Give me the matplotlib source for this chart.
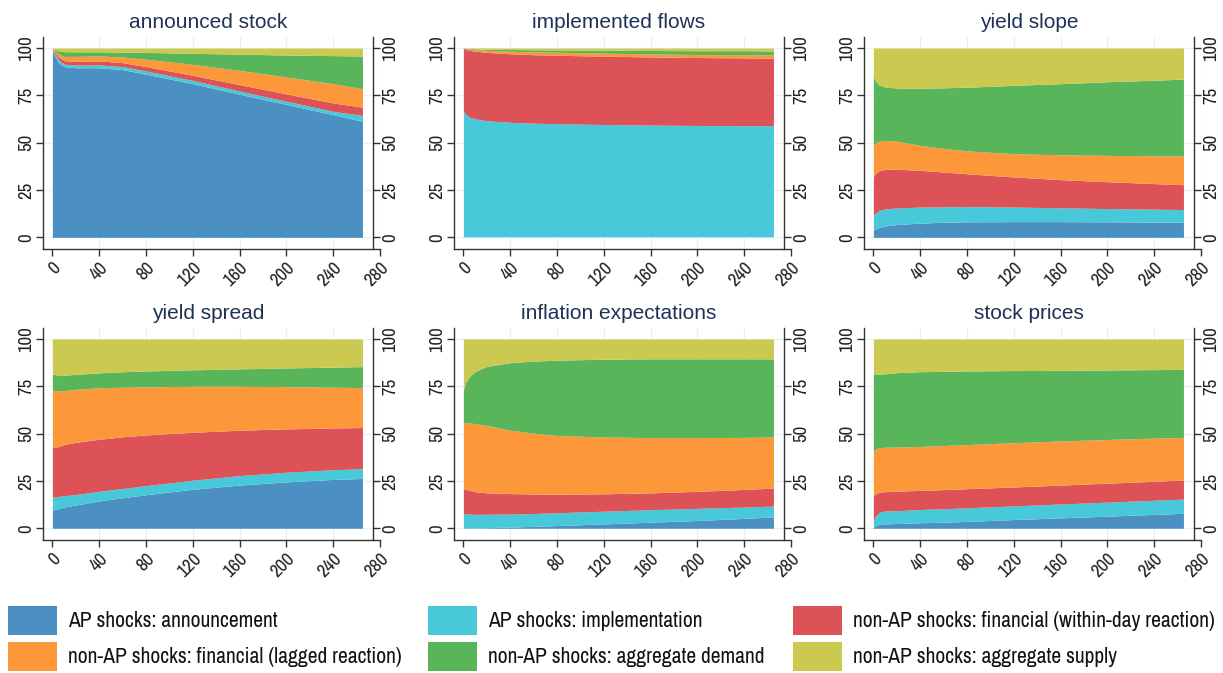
import numpy as np
import matplotlib
matplotlib.use("Agg")
import matplotlib.pyplot as plt
from matplotlib.patches import Rectangle
from matplotlib import font_manager as fm

plt.rcParams['font.family'] = ['Liberation Sans', 'DejaVu Sans']

# narrow face for ticks and legend, falling back to the regular one
installed = {f.name for f in fm.fontManager.ttflist}
narrow = [f for f in ['Liberation Sans Narrow', 'Arial Narrow', 'Archivo Narrow',
                      'PT Sans Narrow', 'Roboto Condensed'] if f in installed]
narrow_family = (narrow[:1] or ['Liberation Sans']) + ['DejaVu Sans']
is_narrow = bool(narrow)

# forecast horizon (days)
h = [0, 2, 5, 10, 20, 40, 60, 80, 120, 160, 200, 240, 265]

# cumulative upper edge of each shock group, in percent
# order: announcement, implementation, fin. within-day, fin. lagged, agg. demand (supply fills to 100)
stock_bounds = [
    [98.5, 96, 92.5, 90.2, 89.6, 89.6, 88.6, 86.2, 81.2, 75.6, 70.2, 64.8, 61.3],
    [99, 97, 94, 91.5, 91, 91.1, 90.2, 87.9, 82.9, 77.3, 71.9, 66.6, 64.4],
    [99.3, 98, 95.5, 93.3, 93, 93.2, 92.3, 90.2, 85.6, 80.7, 75.8, 71, 68.8],
    [99.6, 98.8, 97, 95.6, 95.6, 95.8, 95.3, 94.1, 91.4, 88.2, 84.7, 81.2, 78.5],
    [99.9, 99.3, 98.5, 98.1, 98, 98, 97.9, 97.7, 97.2, 96.8, 96.3, 96, 95.8],
]
flows_bounds = [
    [0.3, 0.3, 0.3, 0.3, 0.3, 0.3, 0.3, 0.3, 0.3, 0.3, 0.3, 0.3, 0.3],
    [67, 65, 63.6, 62.6, 61.6, 60.8, 60.3, 60, 59.6, 59.3, 59.1, 59, 59],
    [100, 99.3, 98.8, 98.4, 97.7, 97, 96.5, 96.2, 95.7, 95.3, 95, 94.8, 94.7],
    [100, 99.7, 99.4, 99.2, 98.8, 98.3, 98, 97.8, 97.3, 96.9, 96.6, 96.5, 96.4],
    [100, 99.9, 99.8, 99.6, 99.4, 99.2, 99.1, 99.0, 98.9, 98.7, 98.6, 98.6, 98.5],
]
slope_bounds = [
    [3.5, 4.5, 5.2, 6, 6.8, 7.5, 8, 8.2, 8.3, 8.3, 8.2, 8.1, 8.1],
    [11.5, 13, 14.2, 15, 15.5, 16, 16.1, 16.2, 16, 15.6, 15.2, 14.9, 14.7],
    [32, 34, 35.2, 36, 36, 35.4, 34.5, 33.6, 31.9, 30.5, 29.4, 28.4, 27.8],
    [48.5, 50, 50.8, 51.2, 50.8, 48.6, 47, 45.7, 44.2, 43.6, 43.3, 43.1, 43],
    [85, 82.5, 80.5, 79.4, 78.9, 78.8, 79, 79.3, 80.3, 81.2, 82.2, 83, 83.6],
]
spread_bounds = [
    [9.5, 9.9, 10.3, 11.2, 12.3, 14.4, 16.1, 17.7, 20.6, 22.8, 24.5, 25.8, 26.3],
    [16.3, 16.5, 16.8, 17.2, 17.8, 19.5, 21, 22.5, 25.4, 27.8, 29.6, 30.9, 31.5],
    [42.5, 42.8, 43.2, 44.2, 45.4, 47, 48.3, 49.3, 50.7, 51.8, 52.5, 53, 53.2],
    [73, 72.8, 72.5, 72.7, 73.4, 74.2, 74.5, 74.7, 75, 75, 74.8, 74.5, 74.3],
    [81.5, 81.3, 80.6, 80.8, 81.3, 82.1, 82.7, 83.1, 83.7, 84.2, 84.7, 85.1, 85.4],
]
infl_bounds = [
    [0, 0, 0, 0.1, 0.3, 0.6, 1, 1.4, 2.3, 3.2, 4.1, 5.2, 6],
    [7.8, 7.6, 7.5, 7.3, 7.4, 7.5, 7.8, 8.2, 9, 9.8, 10.5, 11.2, 11.7],
    [21, 20.5, 20, 19.3, 18.7, 18.3, 18.1, 18, 18.2, 18.7, 19.5, 20.5, 21.2],
    [56, 55.8, 55.6, 55.3, 54.3, 51.8, 50.2, 49, 48.2, 47.9, 47.9, 48, 48.2],
    [73, 77, 80, 82.8, 85.5, 87.5, 88.3, 88.8, 89.3, 89.5, 89.5, 89.5, 89.5],
]
sp_bounds = [
    [0.5, 1.3, 2, 2.3, 2.5, 2.9, 3.2, 3.6, 4.6, 5.5, 6.4, 7.3, 7.9],
    [4, 6.5, 8.5, 9.1, 9.3, 9.9, 10.3, 10.8, 11.8, 12.8, 13.8, 14.8, 15.4],
    [17, 18.2, 19, 19.3, 19.6, 20, 20.4, 20.9, 21.8, 22.8, 23.8, 24.8, 25.5],
    [40.5, 41.8, 42.6, 42.8, 42.9, 43.2, 43.7, 44.2, 45.2, 46.1, 46.9, 47.6, 48],
    [81.5, 81.5, 81.4, 81.6, 82.2, 82.7, 82.9, 83.1, 83.3, 83.4, 83.6, 83.8, 83.9],
]

titles = ["announced stock", "implemented flows", "yield slope",
          "yield spread", "inflation expectations", "stock prices"]
panels = [stock_bounds, flows_bounds, slope_bounds, spread_bounds, infl_bounds, sp_bounds]

labels = ["AP shocks: announcement", "AP shocks: implementation",
          "non-AP shocks: financial (within-day reaction)",
          "non-AP shocks: financial (lagged reaction)",
          "non-AP shocks: aggregate demand", "non-AP shocks: aggregate supply"]
colors = ["#4b8fc3", "#47c9d9", "#dc5256", "#fd983a", "#58b559", "#cbc94f"]

tick_size = 13.5 if is_narrow else 12
leg_size = 15.5 if is_narrow else 13

W, H = 1223, 673
fig = plt.figure(figsize=(W / 100, H / 100), dpi=100)

lefts = [43, 454, 864]
tops = [36.7, 327.6]
aw, ah = 337, 212


def style_ticks(axis_obj, which):
    axis_obj.tick_params(axis=which, colors="#333333", length=5, width=1, pad=1.5,
                         labelsize=tick_size, labelcolor="#222222")


for i, (bounds, title) in enumerate(zip(panels, titles)):
    r, c = divmod(i, 3)
    ax = fig.add_axes([lefts[c] / W, 1 - (tops[r] + ah) / H, aw / W, ah / H])
    x = np.array(h)
    lower = np.zeros(len(h))
    edges = [np.array(b) for b in bounds] + [np.full(len(h), 100.0)]
    for k, upper in enumerate(edges):
        ax.fill_between(x, lower, upper, color=colors[k], lw=0, zorder=2)
        lower = upper
    ax.set_xlim(-8, 280)
    ax.set_ylim(-6, 106)
    ax.set_xticks(range(0, 281, 40))
    ax.set_yticks([0, 25, 50, 75, 100])
    for g in range(40, 281, 40):
        ax.axvline(g, color="#e8f0f2", lw=0.9, zorder=1)
    for g in [0, 25, 50, 75, 100]:
        ax.axhline(g, color="#e8f0f2", lw=0.9, zorder=1)
    ax.spines['top'].set_visible(False)
    ax.spines['right'].set_visible(False)
    for s in ['left', 'bottom']:
        ax.spines[s].set_color("#333333")
        ax.spines[s].set_linewidth(1.0)
    style_ticks(ax, 'both')
    ax.tick_params(axis='x', pad=3)
    ax.tick_params(axis='y', labelrotation=90)
    for lab in ax.get_yticklabels():
        lab.set_va('center')
        lab.set_family(narrow_family)
    for lab in ax.get_xticklabels():
        lab.set_rotation(45)
        lab.set_ha('right')
        lab.set_rotation_mode('anchor')
        lab.set_family(narrow_family)

    ax2 = ax.twinx()
    ax2.set_ylim(-6, 106)
    ax2.set_yticks([0, 25, 50, 75, 100])
    for s in ['left', 'top', 'bottom']:
        ax2.spines[s].set_visible(False)
    ax2.spines['right'].set_position(('data', 274))
    ax2.spines['right'].set_color("#333333")
    ax2.spines['right'].set_linewidth(1.0)
    style_ticks(ax2, 'y')
    ax2.tick_params(axis='y', labelrotation=90)
    for lab in ax2.get_yticklabels():
        lab.set_va('center')
        lab.set_family(narrow_family)

    ax.set_title(title, x=(133 + 8) / 288, fontsize=15, color="#1e3257", pad=6)

# legend below the panels
col_x = [8, 428, 793]
row_y = [606, 642]
for k, (lab, col) in enumerate(zip(labels, colors)):
    r, c = divmod(k, 3)
    x0, y0 = col_x[c], row_y[r]
    fig.patches.append(Rectangle((x0 / W, 1 - (y0 + 29) / H), 49 / W, 29 / H,
                                 transform=fig.transFigure, facecolor=col, edgecolor='none'))
    fig.text((x0 + 60) / W, 1 - (y0 + 15) / H, lab, fontsize=leg_size, va='center', ha='left',
             color="#111111", family=narrow_family)

fig.savefig("out.png", dpi=100, facecolor="white")
